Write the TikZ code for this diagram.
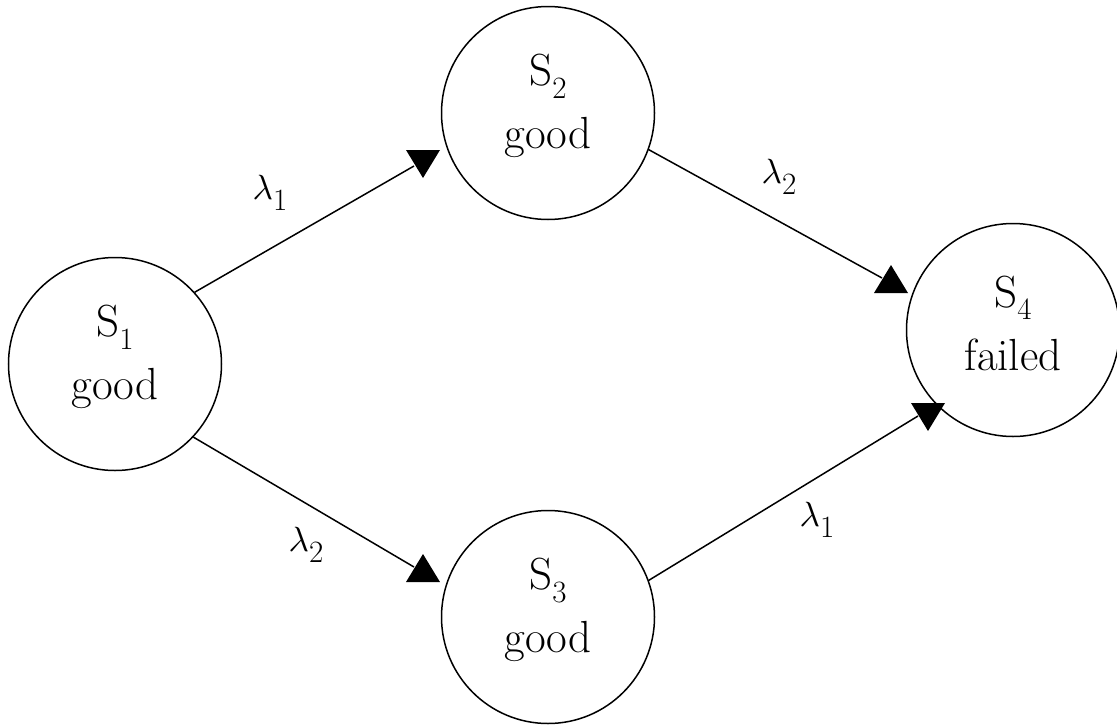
\documentclass[tikz,border=0pt]{standalone}
\begin{document}
\begin{tikzpicture}[x=1pt,y=-1pt,
  state/.style={circle,draw,line width=1.5pt,minimum size=213pt,inner sep=0pt},
  txt/.style={align=center,inner sep=0pt,font=\fontsize{45}{63}\selectfont},
  edge/.style={line width=1.5pt},
  lab/.style={font=\fontsize{38}{38}\selectfont,inner sep=0pt}]
\useasboundingbox (0,0) rectangle (1117,726);
\fill[white] (0,0) rectangle (1117,726);
\newcommand\tridown[2]{\fill (#1,#2) ++(-17,-14) -- ++(34,0) -- ++(-17,28) -- cycle;}
\newcommand\triup[2]{\fill (#1,#2) ++(-17,13) -- ++(34,0) -- ++(-17,-28) -- cycle;}
\newcommand\sub[1]{\raisebox{-0.28em}{\fontsize{31}{31}\selectfont #1}}
\newcommand\lam{{\normalsize\scalebox{3.5}{$\lambda$}}}

\node[state] (s1) at (115,364) {};
\node[state] (s2) at (548,113) {};
\node[state] (s3) at (548,617) {};
\node[state] (s4) at (1013,330) {};
\node[txt] (t1) at ([yshift=7pt]s1.center) {S\sub{1}\\good};
\node[txt] (t2) at ([yshift=7pt]s2.center) {S\sub{2}\\good};
\node[txt] (t3) at ([yshift=7pt]s3.center) {S\sub{3}\\good};
\node[txt] (t4) at ([yshift=7pt]s4.center) {S\sub{4}\\failed};

\coordinate (e12) at (414,166);
\coordinate (e24) at (882,278);
\coordinate (e13) at (414,567);
\coordinate (e34) at (918,416);

\draw[edge] (s1.42) -- (e12);
\draw[edge] (s2.-20) -- (e24);
\draw[edge] (s1.-43) -- (e13);
\draw[edge] (s3.20) -- (e34);

\tridown{423}{164}
\triup{891}{280}
\triup{423}{569}
\tridown{928}{417}

\node[lab] (l1) at (270,193) {\lam\sub{1}};
\node[lab] (l2) at (779,177) {\lam\sub{2}};
\node[lab] (l3) at (306,545) {\lam\sub{2}};
\node[lab] (l4) at (817,520) {\lam\sub{1}};
\end{tikzpicture}
\end{document}
